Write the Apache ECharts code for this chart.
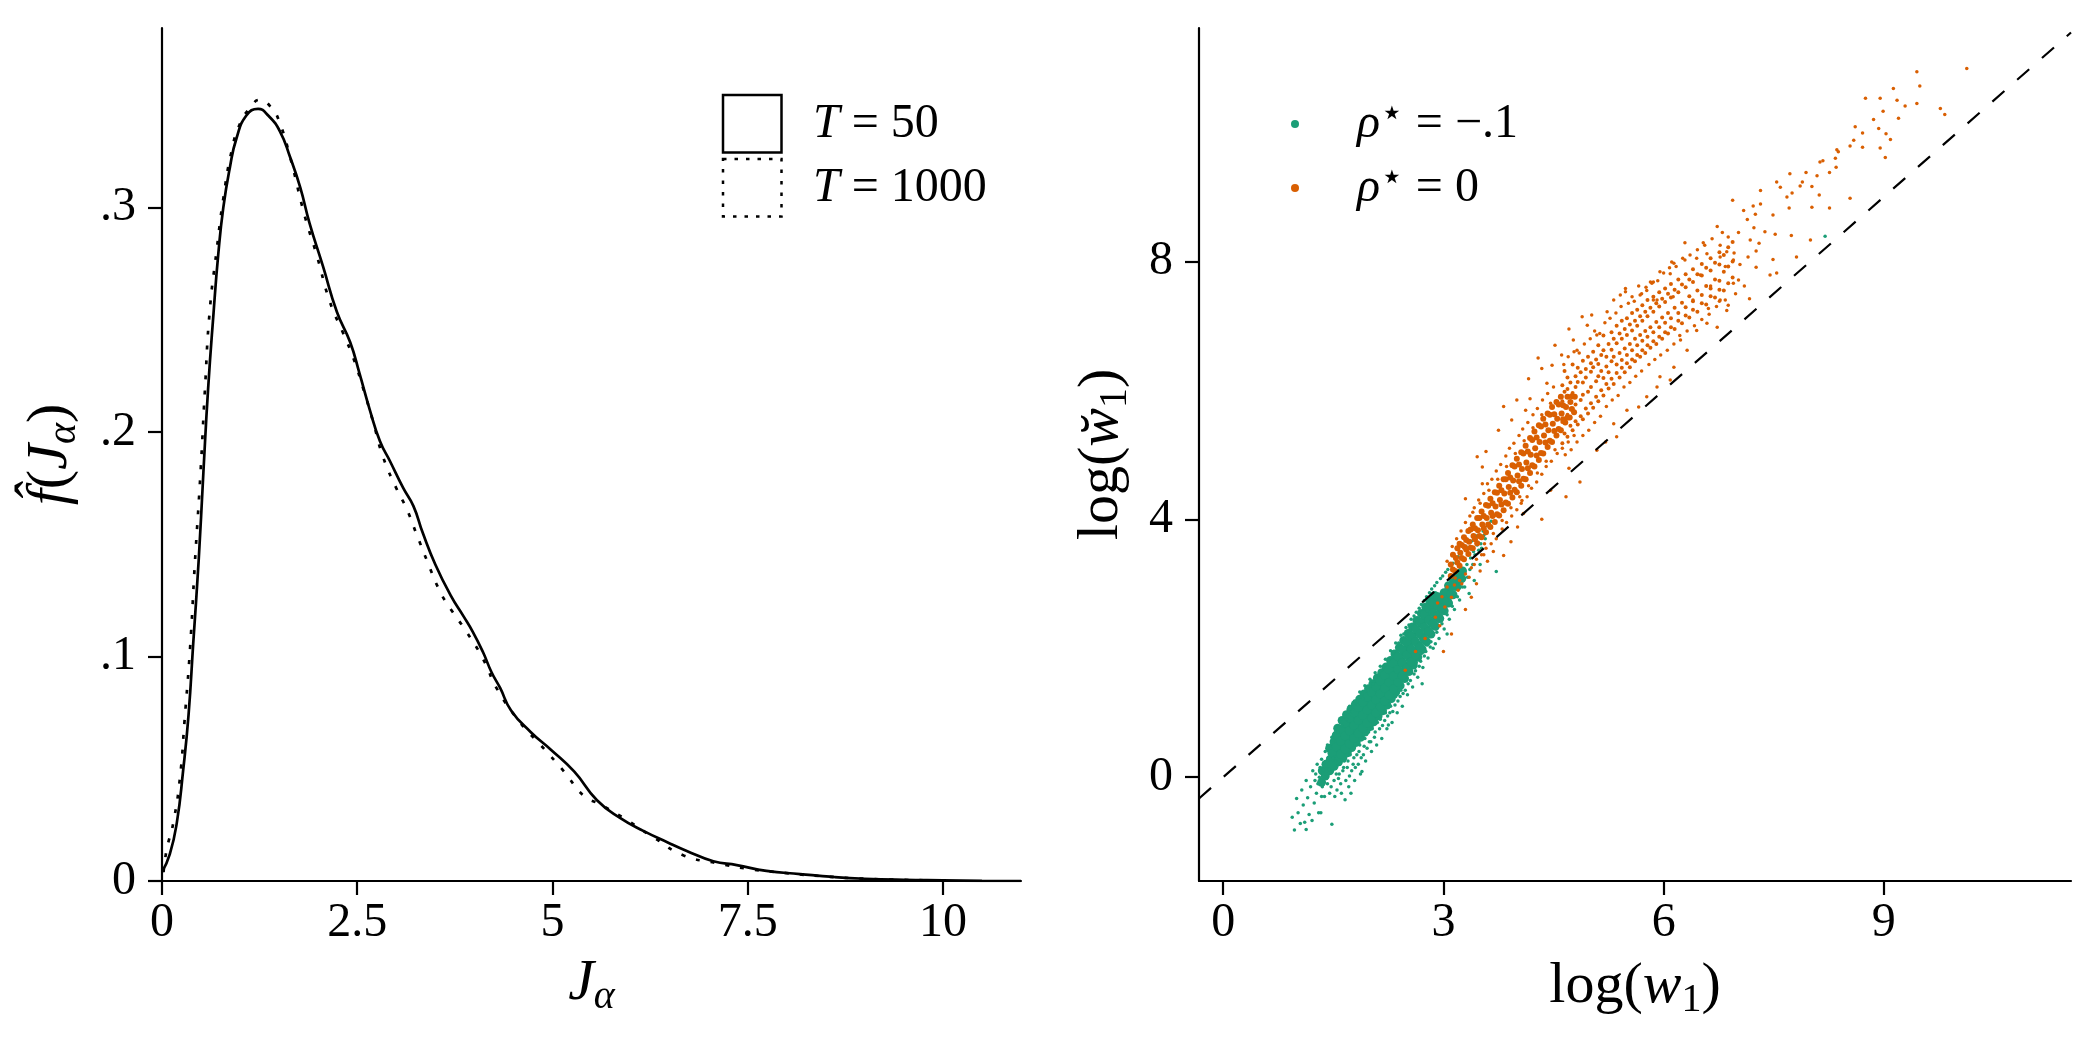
<!DOCTYPE html>
<html><head><meta charset="utf-8">
<script src="https://cdn.jsdelivr.net/npm/echarts@6/dist/echarts.min.js"></script>
<style>html,body{margin:0;padding:0;background:#fff}#c{width:2100px;height:1050px}</style>
</head><body><div id="c"></div>
<script>
const FONT = 'Liberation Serif';
const GREEN = '#1b9e77';
const ORANGE = '#d95f02';

// ---- tick labels ----
const xTicksLeft = [0, 2.5, 5, 7.5, 10];
const yTicksLeft = [0, 0.1, 0.2, 0.3];
const xTicksRight = [0, 3, 6, 9];
const yTicksRight = [0, 4, 8];

// ---- left panel: density estimates [J, f(J)] ----
const densityT50 = [[0,0.004],[0.1,0.012],[0.19,0.026],[0.27,0.049],[0.34,0.074],[0.40,0.106],[0.47,0.143],[0.53,0.182],[0.59,0.219],[0.66,0.253],[0.72,0.279],[0.785,0.300],[0.87,0.318],[0.955,0.331],[1.08,0.341],[1.23,0.344],[1.36,0.341],[1.51,0.334],[1.64,0.3225],[1.77,0.309],[1.89,0.293],[2.06,0.274],[2.24,0.2535],[2.41,0.240],[2.53,0.226],[2.66,0.210],[2.79,0.196],[2.92,0.187],[3.09,0.175],[3.22,0.167],[3.34,0.155],[3.5,0.141],[3.70,0.127],[3.86,0.118],[3.98,0.111],[4.11,0.102],[4.22,0.093],[4.33,0.086],[4.47,0.076],[4.72,0.0664],[4.98,0.0585],[5.28,0.0487],[5.57,0.036],[5.87,0.028],[6.17,0.0222],[6.47,0.0173],[6.72,0.0134],[7.06,0.0088],[7.36,0.0071],[7.74,0.0045],[8.17,0.0031],[8.6,0.0018],[9.0,0.001],[9.5,0.0005],[10.0,0.0003],[10.5,0.0001],[11.0,0]];
const densityT1000 = [[0.02,0.004],[0.06,0.014],[0.145,0.026],[0.23,0.046],[0.29,0.072],[0.36,0.104],[0.42,0.141],[0.49,0.180],[0.55,0.219],[0.61,0.2535],[0.70,0.281],[0.785,0.304],[0.89,0.325],[1.00,0.3375],[1.13,0.3445],[1.25,0.348],[1.40,0.3445],[1.51,0.3375],[1.64,0.3225],[1.83,0.296],[1.98,0.279],[2.15,0.258],[2.32,0.244],[2.45,0.233],[2.58,0.219],[2.70,0.205],[2.83,0.189],[3.00,0.175],[3.13,0.166],[3.26,0.1545],[3.39,0.143],[3.56,0.129],[3.70,0.121],[3.90,0.111],[4.11,0.099],[4.30,0.085],[4.60,0.070],[4.85,0.0605],[5.15,0.0487],[5.40,0.038],[5.62,0.034],[5.96,0.027],[6.30,0.0193],[6.68,0.0114],[7.10,0.008],[7.49,0.0055],[8.0,0.0035],[8.5,0.002],[9.0,0.001],[9.5,0.0005],[10.0,0.0002]];

// ---- right panel: scatter [log(w1), log(w1 breve)] ----
const greenCore = [[1.34,-0.08],[1.35,0.10],[1.39,0.02],[1.40,0.20],[1.45,0.10],[1.46,0.28],[1.45,0.45],[1.51,0.17],[1.52,0.36],[1.51,0.55],[1.57,0.24],[1.58,0.43],[1.57,0.62],[1.56,0.76],[1.63,0.30],[1.64,0.50],[1.63,0.70],[1.62,0.88],[1.69,0.38],[1.70,0.58],[1.69,0.78],[1.68,0.97],[1.75,0.46],[1.76,0.66],[1.75,0.86],[1.74,1.05],[1.81,0.54],[1.82,0.74],[1.81,0.94],[1.80,1.13],[1.87,0.62],[1.88,0.82],[1.87,1.02],[1.86,1.21],[1.93,0.70],[1.94,0.90],[1.93,1.10],[1.92,1.29],[1.99,0.78],[2.00,0.98],[1.99,1.18],[1.98,1.37],[2.05,0.86],[2.06,1.06],[2.05,1.26],[2.04,1.45],[2.11,0.95],[2.12,1.15],[2.11,1.35],[2.10,1.54],[2.17,1.03],[2.18,1.23],[2.17,1.43],[2.16,1.62],[2.23,1.12],[2.24,1.32],[2.23,1.52],[2.22,1.71],[2.29,1.22],[2.30,1.42],[2.29,1.62],[2.28,1.81],[2.35,1.32],[2.36,1.52],[2.35,1.72],[2.34,1.91],[2.41,1.42],[2.42,1.62],[2.41,1.82],[2.40,2.01],[2.47,1.53],[2.48,1.73],[2.47,1.93],[2.46,2.12],[2.53,1.64],[2.54,1.84],[2.53,2.04],[2.52,2.23],[2.59,1.74],[2.60,1.94],[2.59,2.14],[2.58,2.33],[2.65,1.86],[2.66,2.05],[2.65,2.25],[2.64,2.43],[2.71,1.98],[2.72,2.17],[2.71,2.37],[2.70,2.54],[2.77,2.10],[2.78,2.28],[2.77,2.47],[2.76,2.64],[2.83,2.22],[2.84,2.39],[2.83,2.57],[2.82,2.73],[2.89,2.34],[2.90,2.50],[2.89,2.66],[2.88,2.82],[2.95,2.46],[2.96,2.61],[2.95,2.76],[3.01,2.58],[3.02,2.72],[3.01,2.86],[3.07,2.70],[3.08,2.84],[3.07,2.97],[3.13,2.83],[3.14,2.96],[3.13,3.07],[3.19,2.96],[3.20,3.08],[3.25,3.08],[3.26,3.20],
[1.48,0.19],[1.48,0.38],[1.54,0.27],[1.54,0.47],[1.54,0.65],[1.60,0.36],[1.60,0.56],[1.60,0.74],[1.66,0.44],[1.66,0.64],[1.66,0.84],[1.72,0.52],[1.72,0.72],[1.72,0.92],[1.78,0.60],[1.78,0.80],[1.78,1.00],[1.84,0.68],[1.84,0.88],[1.84,1.08],[1.90,0.76],[1.90,0.96],[1.90,1.16],[1.96,0.84],[1.96,1.04],[1.96,1.24],[2.02,0.92],[2.02,1.12],[2.02,1.32],[2.08,1.00],[2.08,1.20],[2.08,1.40],[2.14,1.09],[2.14,1.29],[2.14,1.49],[2.20,1.18],[2.20,1.38],[2.20,1.58],[2.26,1.27],[2.26,1.47],[2.26,1.67],[2.32,1.37],[2.32,1.57],[2.32,1.77],[2.38,1.47],[2.38,1.67],[2.38,1.87],[2.44,1.58],[2.44,1.78],[2.44,1.98],[2.50,1.69],[2.50,1.89],[2.50,2.09],[2.56,1.79],[2.56,1.99],[2.56,2.19],[2.62,1.90],[2.62,2.10],[2.62,2.30],[2.68,2.02],[2.68,2.22],[2.68,2.41],[2.74,2.14],[2.74,2.33],[2.74,2.52],[2.80,2.26],[2.80,2.44],[2.80,2.62],[2.86,2.38],[2.86,2.55],[2.86,2.71],[2.92,2.50],[2.92,2.66],[2.92,2.80],[2.98,2.62],[2.98,2.76],[3.04,2.73],[3.04,2.86],[3.10,2.84],[3.10,2.96],[3.16,2.96],[3.16,3.06],[3.22,3.06],[3.22,3.16]];
const greenPts = [[0.94,-0.62],[0.97,-0.82],[1.00,-0.33],[1.02,-0.55],[1.05,-0.72],[1.07,-0.20],[1.09,-0.43],[1.11,-0.70],[1.13,-0.81],[1.13,-0.05],[1.15,-0.32],[1.17,-0.58],[1.19,-0.15],[1.21,-0.67],[1.22,0.10],[1.24,-0.40],[1.25,-0.05],[1.27,-0.25],[1.28,0.20],[1.30,-0.55],[1.31,0.00],[1.33,-0.55],[1.34,0.28],[1.35,-0.15],[1.36,0.12],[1.38,-0.30],[1.39,0.40],[1.40,0.05],[1.42,-0.10],[1.43,0.30],[1.45,-0.25],[1.46,0.45],[1.48,-0.73],[1.49,0.10],[1.50,0.58],[1.51,-0.05],[1.53,0.25],[1.55,-0.20],[1.56,0.70],[1.58,0.05],[1.60,-0.10],[1.62,0.80],[1.64,0.15],[1.66,-0.35],[1.68,0.90],[1.70,0.25],[1.72,0.02],[1.74,-0.25],[1.76,1.02],[1.78,0.30],[1.80,0.15],[1.83,1.12],[1.85,0.40],[1.87,0.05],[1.89,0.09],[1.90,1.22],[1.92,0.48],[1.94,0.25],[1.97,1.35],[1.99,0.55],[2.02,0.40],[2.04,1.45],[2.06,0.62],[2.09,0.50],[2.11,1.58],[2.13,0.75],[2.16,0.60],[2.18,1.70],[2.20,0.88],[2.23,0.75],[2.25,0.81],[2.25,1.82],[2.27,1.00],[2.30,0.85],[2.32,1.95],[2.34,1.12],[2.37,1.00],[2.39,2.08],[2.41,1.25],[2.44,1.10],[2.46,2.22],[2.48,1.35],[2.51,1.28],[2.53,2.36],[2.55,1.50],[2.58,1.40],[2.60,2.50],[2.62,1.65],[2.65,1.55],[2.67,2.62],[2.69,1.80],[2.71,1.45],[2.72,1.70],[2.74,2.74],[2.76,1.95],[2.79,1.85],[2.81,2.86],[2.83,2.10],[2.86,2.00],[2.88,2.97],[2.89,2.07],[2.91,2.25],[2.94,2.15],[2.96,3.08],[2.98,2.38],[3.01,2.30],[3.03,3.18],[3.05,2.22],[3.05,2.52],[3.08,2.45],[3.10,3.28],[3.12,2.65],[3.15,2.60],[3.17,3.38],[3.19,2.80],[3.22,2.75],[3.24,3.48],[3.26,2.95],[3.29,2.95],[3.31,3.57],[3.33,3.10],[3.35,2.85],[3.36,3.22],[3.38,3.66],[3.40,3.30],[3.42,3.05],[3.43,3.45],[3.45,3.74],[3.48,3.52],[3.50,3.30],[3.51,3.62],[3.54,3.82],[3.57,3.70],[3.60,3.90],[3.65,3.97],[3.72,3.19],[8.20,8.39],
[1.26,0.05],[1.29,-0.10],[1.32,0.15],[1.34,-0.30],[1.37,0.22],[1.41,-0.02],[1.44,0.12],[1.47,-0.15],[1.50,0.30],[1.52,-0.30],[1.54,0.05],[1.57,-0.02],[1.59,0.20],[1.61,-0.25],[1.63,0.10],[1.65,0.25],[1.67,-0.05],[1.69,0.15],[1.71,-0.15],[1.73,0.35],[1.75,0.10],[1.77,0.20],[1.79,-0.05],[1.82,0.35],[1.84,0.20],[1.86,0.50],[1.88,0.30],[1.91,0.35],[1.93,0.60],[1.96,0.45],[1.98,0.70],[2.01,0.55],[2.03,0.75],[2.07,0.70],[2.10,0.85],[2.14,0.90],[2.17,0.80],[2.21,1.00],[2.24,0.95],[2.28,1.10],[2.31,1.02],[2.35,1.25],[2.38,1.18],[2.42,1.35],[2.45,1.30],[2.49,1.50],[2.52,1.45],[2.56,1.62],[2.60,1.60],[2.63,1.78],[2.67,1.72],[2.70,1.92],[2.74,1.88],[2.78,2.05],[2.82,2.02],[2.85,2.20],[2.90,2.30],[2.93,2.42],[2.97,2.50],[3.00,2.58],[3.04,2.65],[3.09,2.75],[3.14,2.85],[3.18,2.92],[3.23,3.00],[3.28,3.08],[3.32,3.30],[3.37,3.40],[3.41,3.50],[3.46,3.60],[3.52,3.55],[3.55,3.75],
[1.42,0.50],[1.48,0.62],[1.54,0.78],[1.60,0.90],[1.66,1.00],[1.72,1.10],[1.79,1.18],[1.86,1.32],[1.93,1.42],[2.00,1.52],[2.07,1.62],[2.14,1.72],[2.21,1.83],[2.28,1.96],[2.35,2.08],[2.42,2.20],[2.49,2.32],[2.56,2.45],[2.63,2.56],[2.70,2.68],[2.77,2.80],[2.84,2.92],[2.91,3.02],[2.99,3.12],[3.06,3.22],[3.13,3.32],[3.20,3.42]];
const orangeCore = [[3.10,3.12],[3.10,3.30],[3.16,3.20],[3.17,3.40],[3.22,3.28],[3.23,3.48],[3.22,3.62],[3.28,3.38],[3.29,3.57],[3.28,3.72],[3.34,3.46],[3.35,3.65],[3.34,3.82],[3.40,3.55],[3.41,3.74],[3.40,3.92],[3.46,3.63],[3.47,3.83],[3.46,4.02],[3.52,3.72],[3.53,3.92],[3.52,4.12],[3.58,3.80],[3.59,4.02],[3.58,4.22],[3.64,3.88],[3.65,4.10],[3.64,4.32],[3.70,3.96],[3.71,4.20],[3.70,4.42],[3.76,4.06],[3.77,4.30],[3.76,4.52],[3.82,4.14],[3.83,4.40],[3.82,4.62],[3.88,4.24],[3.89,4.50],[3.88,4.72],[3.94,4.34],[3.95,4.60],[3.94,4.84],[4.00,4.42],[4.01,4.68],[4.00,4.94],[4.06,4.52],[4.07,4.78],[4.06,5.04],[4.12,4.62],[4.13,4.88],[4.12,5.14],[4.18,4.72],[4.19,5.00],[4.18,5.26],[4.24,4.82],[4.25,5.10],[4.24,5.36],[4.30,4.92],[4.31,5.20],[4.30,5.46],[4.36,5.02],[4.37,5.30],[4.36,5.56],[4.42,5.12],[4.43,5.38],[4.42,5.64],[4.48,5.20],[4.49,5.48],[4.48,5.74],[4.54,5.30],[4.55,5.56],[4.54,5.82],[4.60,5.38],[4.61,5.64],[4.60,5.90],[4.66,5.50],[4.67,5.74],[4.72,5.58],[4.73,5.82],[4.78,5.66],[4.79,5.90],
[3.13,3.22],[3.13,3.45],[3.19,3.33],[3.19,3.55],[3.25,3.40],[3.25,3.60],[3.31,3.53],[3.31,3.68],[3.37,3.56],[3.37,3.84],[3.43,3.69],[3.43,3.86],[3.49,3.74],[3.49,4.02],[3.55,3.86],[3.55,4.05],[3.61,3.92],[3.61,4.21],[3.67,4.05],[3.67,4.25],[3.73,4.08],[3.73,4.41],[3.79,4.23],[3.79,4.45],[3.85,4.26],[3.85,4.62],[3.91,4.41],[3.91,4.65],[3.97,4.46],[3.97,4.82],[4.03,4.59],[4.03,4.85],[4.09,4.63],[4.09,5.02],[4.15,4.79],[4.15,5.05],[4.21,4.84],[4.21,5.23],[4.27,4.99],[4.27,5.27],[4.33,5.03],[4.33,5.44],[4.39,5.19],[4.39,5.47],[4.45,5.22],[4.45,5.62],[4.51,5.37],[4.51,5.63],[4.57,5.40],[4.57,5.78],[4.63,5.55],[4.63,5.77],[4.69,5.58],[4.69,5.90],[4.75,5.71],[4.75,5.91]];
const orangeMid = [[4.62,5.18],[4.62,5.51],[4.62,5.83],[4.62,6.08],[4.65,5.33],[4.65,5.98],[4.65,6.30],[4.69,5.28],[4.69,5.62],[4.69,6.02],[4.69,6.20],[4.73,5.45],[4.73,5.71],[4.73,6.12],[4.76,5.38],[4.76,5.96],[4.76,6.40],[4.80,5.52],[4.80,5.78],[4.80,6.05],[4.80,6.22],[4.83,5.47],[4.83,6.13],[4.83,6.35],[4.87,5.60],[4.87,5.85],[4.87,6.28],[4.90,5.55],[4.90,5.93],[4.90,6.12],[4.90,6.46],[4.94,5.72],[4.94,6.20],[4.94,6.33],[4.97,5.64],[4.97,5.98],[4.97,6.52],[5.01,5.80],[5.01,6.05],[5.01,6.29],[5.01,6.42],[5.04,5.73],[5.04,6.36],[5.04,6.60],[5.08,5.90],[5.08,6.14],[5.08,6.48],[5.11,5.83],[5.11,6.22],[5.11,6.41],[5.11,6.70],[5.15,6.00],[5.15,6.30],[5.15,6.55],[5.18,5.92],[5.18,6.19],[5.18,6.62],[5.18,6.85],[5.22,6.10],[5.22,6.37],[5.22,6.52],[5.25,6.03],[5.25,6.28],[5.25,6.72],[5.29,6.18],[5.29,6.45],[5.29,6.63],[5.29,6.90],[5.32,6.10],[5.32,6.52],[5.32,6.80],[5.36,6.27],[5.36,6.40],[5.36,6.73],[5.36,7.00],[5.40,6.20],[5.40,6.58],[5.40,6.88],[5.43,6.35],[5.43,6.47],[5.43,6.80],[5.43,7.08],[5.47,6.28],[5.47,6.65],[5.47,6.95],[5.50,6.42],[5.50,6.55],[5.50,6.86],[5.50,7.12],[5.54,6.36],[5.54,6.72],[5.54,7.02],[5.57,6.48],[5.57,6.62],[5.57,6.93],[5.57,7.20],[5.61,6.45],[5.61,6.80],[5.61,7.08],[5.64,6.55],[5.64,6.70],[5.64,7.00],[5.64,7.25],[5.68,6.52],[5.68,6.86],[5.68,7.15],[5.71,6.62],[5.71,6.77],[5.71,7.08],[5.71,7.32],[5.75,6.58],[5.75,6.92],[5.75,7.22],[5.78,6.70],[5.78,6.83],[5.78,7.15],[5.78,7.40],[5.82,6.66],[5.82,6.98],[5.82,7.28],[5.86,6.76],[5.86,6.90],[5.86,7.22],[5.86,7.45],[5.90,6.72],[5.90,7.06],[5.90,7.35],[5.94,6.83],[5.94,6.98],[5.94,7.30],[5.94,7.52],[5.98,6.80],[5.98,7.13],[5.98,7.42],[6.02,6.90],[6.02,7.05],[6.02,7.37],[6.02,7.58],[6.06,6.88],[6.06,7.20],[6.06,7.50],[6.10,6.98],[6.10,7.12],[6.10,7.44],[6.10,7.65],[6.15,6.95],[6.15,7.28],[6.15,7.56],[6.20,7.08],[6.20,7.20],[6.20,7.52],[6.20,7.72],[6.25,7.04],[6.25,7.36],[6.25,7.64],[6.30,7.16],[6.30,7.29],[6.30,7.60],[6.30,7.80],[6.35,7.13],[6.35,7.46],[6.35,7.72],[6.40,7.25],[6.40,7.38],[6.40,7.68],[6.40,7.88],[6.46,7.22],[6.46,7.55],[6.46,7.80],[6.52,7.35],[6.52,7.48],[6.52,7.78],[6.52,7.96],[6.58,7.33],[6.58,7.62],[6.58,7.90],[6.64,7.46],[6.64,7.58],[6.64,7.86],[6.64,8.05],[6.70,7.44],[6.70,7.72],[6.70,7.98],[6.76,7.56],[6.76,7.70],[6.76,7.95],[6.76,8.14],[6.82,7.55],[6.82,7.84],[6.82,8.10],[6.88,7.66],[6.88,7.92],[6.88,8.22],[6.94,7.75],[6.94,8.00],[6.94,8.30]];
const orangePts = [[2.48,1.66],[2.62,1.95],[2.75,2.15],[2.89,2.48],[2.92,2.70],[2.95,2.35],[2.98,2.80],[3.00,1.95],[3.02,2.64],[3.05,2.95],[3.11,2.79],[3.11,2.22],[3.16,3.09],[3.20,2.90],[3.25,3.00],[3.30,2.60],[3.35,3.10],[3.38,2.79],[3.42,3.30],[3.45,3.00],[3.50,3.20],[3.55,3.45],[3.60,3.35],[3.68,3.50],
[3.05,3.35],[3.12,3.58],[3.18,3.70],[3.24,3.82],[3.30,3.95],[3.36,4.05],[3.42,4.18],[3.48,4.30],[3.55,4.40],[3.60,4.55],[3.66,4.62],[3.72,4.75],[3.78,4.85],[3.85,4.98],[3.90,5.10],[3.96,5.18],[4.03,5.30],[4.08,5.40],[4.15,5.50],[4.22,5.62],[4.28,5.72],[4.35,5.85],[4.42,5.95],[4.50,6.05],
[3.15,2.98],[3.22,3.05],[3.30,3.15],[3.38,3.25],[3.45,3.38],[3.52,3.45],[3.58,3.55],[3.65,3.62],[3.72,3.70],[3.80,3.85],[3.86,3.95],[3.93,4.05],[4.00,4.15],[4.06,4.25],[4.14,4.35],[4.20,4.48],[4.27,4.58],[4.34,4.70],[4.40,4.82],[4.47,4.90],[4.55,5.02],[4.62,5.10],[4.70,5.20],[4.78,5.30],
[3.50,4.25],[3.62,4.45],[3.74,4.62],[3.86,4.82],[3.98,5.02],[4.10,5.22],[4.22,5.42],[4.34,5.62],[4.46,5.80],[3.56,3.62],[3.68,3.78],[3.80,3.98],[3.92,4.18],[4.04,4.35],[4.16,4.52],[4.28,4.72],[4.40,4.90],[4.52,5.08],
[3.30,4.32],[3.40,4.11],[3.46,4.97],[3.53,4.55],[3.58,5.05],[3.53,4.81],[3.75,5.38],[3.82,5.75],[3.93,5.54],[4.00,5.85],[4.12,5.69],[4.16,6.18],[4.18,5.87],[4.29,6.50],[4.34,6.34],[4.41,6.11],[4.52,6.70],[4.48,6.39],[4.61,6.55],[4.71,6.95],[4.77,6.78],[4.82,6.62],[4.89,7.14],[4.96,7.01],[5.02,7.17],[5.09,6.86],[5.23,7.22],[5.32,7.40],[5.41,7.48],[5.48,7.58],[5.57,7.45],[5.66,7.62],[5.70,7.50],[5.77,7.55],[5.86,7.68],[5.95,7.84],[6.09,7.81],[6.14,7.97],[6.29,8.02],[6.45,8.05],[6.59,8.12],[6.77,8.07],[6.86,8.15],[6.95,8.02],[6.84,7.92],
[4.64,6.40],[4.70,6.52],[4.78,6.60],[4.85,6.58],[4.92,6.72],[5.00,6.80],[5.06,6.92],[5.13,6.88],[5.20,7.05],[5.27,7.12],[5.35,7.20],[5.42,7.30],[5.52,7.35],[5.60,7.38],[5.68,7.48],[5.76,7.60],[5.84,7.66],[5.92,7.70],[6.00,7.82],[6.08,7.90],[6.17,7.92],[6.26,8.05],[6.36,8.10],[6.46,8.18],[6.56,8.25],[6.66,8.35],[6.80,8.45],
[4.66,5.00],[4.74,5.08],[4.82,5.20],[4.90,5.30],[4.98,5.38],[5.06,5.50],[5.14,5.60],[5.22,5.75],[5.30,5.85],[5.38,5.92],[5.46,6.05],[5.54,6.12],[5.62,6.22],[5.70,6.30],[5.80,6.40],[5.88,6.48],[5.96,6.55],[6.05,6.62],[6.14,6.72],[6.22,6.85],[6.32,6.92],[6.42,7.00],[6.52,7.10],[6.62,7.18],[6.72,7.30],[6.84,7.40],[6.98,7.50],[7.10,7.62],
[4.67,4.35],[4.46,4.45],[4.34,4.00],[4.09,4.09],[3.82,3.44],[4.01,3.88],[3.92,3.65],[4.07,4.29],[4.71,4.79],[4.86,4.58],[5.09,5.07],[5.21,5.20],[5.36,5.28],[5.32,5.48],[5.50,5.69],[5.66,5.74],[5.77,5.90],[5.91,6.05],[5.95,6.21],[6.09,6.16],[6.14,6.36],[6.32,6.62],[6.23,6.78],[6.45,6.93],[6.59,7.04],[6.73,6.98],[6.86,7.24],[6.77,7.40],[6.95,7.66],
[5.86,7.40],[6.73,8.54],[7.32,9.10],[7.72,9.36],[8.13,9.54],[8.36,9.73],[8.59,9.88],[8.75,10.53],[8.95,10.53],[9.13,10.68],[9.49,10.72],[9.45,10.94],[10.13,10.99],[9.77,10.37],[9.83,10.28],[9.45,10.45],[9.29,10.41],[9.18,10.50],[8.99,10.33],[8.86,10.20],[9.20,10.22],[8.93,10.06],[9.03,9.98],[9.09,9.89],[8.95,9.76],[9.02,9.61],[8.71,9.77],[8.61,10.09],[8.71,9.99],[8.54,9.79],[8.38,9.70],[8.34,9.60],[8.17,9.56],[8.35,9.46],[8.09,9.33],[8.26,9.38],[7.94,9.38],[7.89,9.23],[8.02,9.16],[8.12,9.03],[7.86,9.17],[7.75,9.06],[7.59,9.15],[7.54,9.23],[7.68,9.00],[8.02,8.84],[8.26,8.83],[8.54,8.98],[7.71,8.83],[7.32,8.89],[7.22,8.86],[7.49,8.72],[7.25,8.73],[7.09,8.79],[6.94,8.95],[7.14,8.65],[7.23,8.52],[7.38,8.46],[7.52,8.42],[7.74,8.40],[8.00,8.33],[7.81,8.07],[7.18,8.33],[7.02,8.45],[6.88,8.38],[6.77,8.25],[6.96,8.13],[7.15,8.07],[7.26,8.16],[7.30,8.28],[7.49,8.03],[7.26,7.91],[7.04,7.95],[7.45,7.79],[7.54,7.82],[7.17,7.42],[7.02,7.71],[6.64,7.62],[6.54,8.29],[6.29,8.29],[6.11,7.99],[5.82,7.68],[5.48,7.53],[6.88,7.32],[6.61,7.27],[6.76,7.38],[6.40,7.40],[6.50,7.79],[6.13,7.45],[5.91,7.40]];
const identityLine = [[-0.33,-0.33],[11.55,11.55]];

// ---- styles ----
const AX_LINE = {show:true, onZero:false, lineStyle:{color:'#000', width:2.2}};
function tick(vals){ return {show:true, length:14, customValues:vals, lineStyle:{color:'#000', width:2.2}}; }
function label(vals, fmt, margin){ return {show:true, customValues:vals, color:'#000', fontFamily:FONT, fontSize:48, margin:margin, formatter:fmt}; }
const NAME_RICH = {
  p:{fontFamily:FONT, fontSize:58, lineHeight:66, color:'#000'},
  i:{fontFamily:FONT, fontStyle:'italic', fontSize:58, lineHeight:66, color:'#000'},
  s:{fontFamily:FONT, fontSize:40, lineHeight:36, verticalAlign:'bottom', color:'#000'},
  si:{fontFamily:FONT, fontStyle:'italic', fontSize:40, lineHeight:36, verticalAlign:'bottom', color:'#000'}
};
const LEG_RICH = {
  i:{fontFamily:FONT, fontStyle:'italic', fontSize:48, lineHeight:56, color:'#000'},
  n:{fontFamily:FONT, fontSize:48, lineHeight:56, color:'#000'},
  st:{fontFamily:'DejaVu Sans', fontSize:38, lineHeight:38, verticalAlign:'top', color:'#000'}
};

const chart = echarts.init(document.getElementById('c'), null, {renderer:'canvas'});
chart.setOption({
  animation:false,
  backgroundColor:'#fff',
  grid:[{left:162, right:1079, top:28, bottom:169}, {left:1199, right:29, top:28, bottom:169}],
  xAxis:[
    {gridIndex:0, type:'value', min:0, max:11, axisLine:AX_LINE, axisTick:tick(xTicksLeft),
     axisLabel:label(xTicksLeft, v=>String(v), 18), splitLine:{show:false},
     name:'{i|J}{si|α}', nameLocation:'middle', nameGap:70, nameTextStyle:{rich:NAME_RICH}},
    {gridIndex:1, type:'value', min:-0.33, max:11.55, axisLine:AX_LINE, axisTick:tick(xTicksRight),
     axisLabel:label(xTicksRight, v=>String(v), 18), splitLine:{show:false},
     name:'{p|log(}{i|w}{s|1}{p|)}', nameLocation:'middle', nameGap:73, nameTextStyle:{rich:NAME_RICH}}
  ],
  yAxis:[
    {gridIndex:0, type:'value', min:0, max:0.38, axisLine:AX_LINE, axisTick:tick(yTicksLeft),
     axisLabel:label(yTicksLeft, v=> v===0 ? '0' : '.' + Math.round(v*10), 26), splitLine:{show:false},
     name:'{i|f\u0302}{p|(}{i|J}{si|α}{p|)}', nameLocation:'middle', nameGap:78, nameTextStyle:{rich:NAME_RICH}},
    {gridIndex:1, type:'value', min:-1.61, max:11.62, axisLine:AX_LINE, axisTick:tick(yTicksRight),
     axisLabel:label(yTicksRight, v=>String(v), 26), splitLine:{show:false},
     name:'{p|log(}{i|w\u0306}{s|1}{p|)}', nameLocation:'middle', nameGap:64, nameTextStyle:{rich:NAME_RICH}}
  ],
  legend:{
    orient:'vertical', left:1291, top:96, padding:0, itemGap:8, itemWidth:8, itemHeight:8,
    selectedMode:false, data:[{name:'g', icon:'circle'}, {name:'o', icon:'circle'}],
    formatter: n => n === 'g' ? '{i|ρ}{st|⋆}{n| = −.1}' : '{i|ρ}{st|⋆}{n| = 0}',
    textStyle:{fontFamily:FONT, fontSize:48, lineHeight:56, padding:[0,0,0,53], rich:LEG_RICH}
  },
  graphic:[
    {type:'rect', shape:{x:723, y:95, width:58.5, height:57.5}, style:{fill:'none', stroke:'#000', lineWidth:2.5}},
    {type:'rect', shape:{x:723, y:159, width:58.5, height:57.5}, style:{fill:'none', stroke:'#000', lineWidth:2.5, lineDash:[3.5,8]}},
    {type:'text', x:813, y:124, style:{text:'{i|T}{n| = 50}', rich:LEG_RICH, verticalAlign:'middle', align:'left'}},
    {type:'text', x:813, y:188, style:{text:'{i|T}{n| = 1000}', rich:LEG_RICH, verticalAlign:'middle', align:'left'}}
  ],
  series:[
    {name:'T50', type:'line', xAxisIndex:0, yAxisIndex:0, data:densityT50, showSymbol:false, smooth:0.5,
     lineStyle:{color:'#000', width:2.7}, clip:true, silent:true},
    {name:'T1000', type:'line', xAxisIndex:0, yAxisIndex:0, data:densityT1000, showSymbol:false, smooth:0.5,
     lineStyle:{color:'#000', width:2.7, type:[4,11]}, clip:true, silent:true},
    {name:'g', type:'scatter', xAxisIndex:1, yAxisIndex:1, data:greenCore, symbolSize:9, itemStyle:{color:GREEN, opacity:1}, silent:true},
    {name:'g', type:'scatter', xAxisIndex:1, yAxisIndex:1, data:greenPts, symbolSize:3.5, itemStyle:{color:GREEN, opacity:1}, silent:true},
    {name:'o', type:'scatter', xAxisIndex:1, yAxisIndex:1, data:orangeCore, symbolSize:6, itemStyle:{color:ORANGE, opacity:1}, silent:true},
    {name:'o', type:'scatter', xAxisIndex:1, yAxisIndex:1, data:orangeMid, symbolSize:4, itemStyle:{color:ORANGE, opacity:1}, silent:true},
    {name:'o', type:'scatter', xAxisIndex:1, yAxisIndex:1, data:orangePts, symbolSize:3.5, itemStyle:{color:ORANGE, opacity:1}, silent:true},
    {name:'ref', type:'line', xAxisIndex:1, yAxisIndex:1, data:identityLine, showSymbol:false, z:5,
     lineStyle:{color:'#000', width:2.2, type:[16,17]}, clip:true, silent:true}
  ]
});
</script></body></html>
